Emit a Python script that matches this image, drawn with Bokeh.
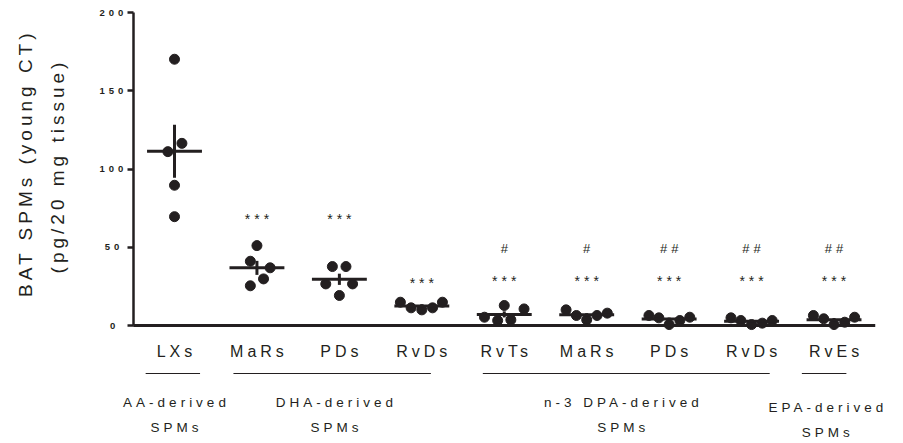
import numpy as np
from bokeh.plotting import figure
from bokeh.models import Range1d, FixedTicker, InlineStyleSheet
from bokeh.core.properties import value
from bokeh.embed import file_html
from bokeh.resources import INLINE

# ---------------- data ----------------
categories = ["LXs", "MaRs", "PDs", "RvDs", "RvTs", "MaRs", "PDs", "RvDs", "RvEs"]

lxs      = [170.3, 116.5, 111.2, 89.7, 69.6]
dha_mars = [51.1, 41.1, 36.9, 29.8, 25.4]
dha_pds  = [37.7, 37.7, 26.6, 26.6, 19.2]
dha_rvds = [14.9, 11.3, 10.0, 11.3, 14.9]
dpa_rvts = [12.8, 10.6, 5.3, 3.2, 3.6]
dpa_mars = [10.0, 6.4, 3.6, 6.4, 7.9]
dpa_pds  = [6.4, 4.9, 0.6, 3.2, 5.3]
dpa_rvds = [4.9, 3.2, 0.6, 1.5, 3.2]
epa_rves = [6.4, 4.3, 0.6, 2.1, 5.3]
series = [lxs, dha_mars, dha_pds, dha_rvds, dpa_rvts, dpa_mars, dpa_pds, dpa_rvds, epa_rves]

# horizontal scatter spread of the dots (category units)
lxs_jit      = [0.0, 0.09, -0.08, 0.0, 0.0]
dha_mars_jit = [0.0, -0.08, 0.16, 0.08, -0.08]
dha_pds_jit  = [-0.085, 0.08, -0.165, 0.16, 0.0]
dha_rvds_jit = [-0.26, -0.13, 0.0, 0.13, 0.25]
dpa_rvts_jit = [0.0, 0.24, -0.24, -0.08, 0.08]
dpa_mars_jit = [-0.25, -0.125, 0.0, 0.125, 0.25]
dpa_pds_jit  = [-0.245, -0.125, 0.0, 0.13, 0.25]
dpa_rvds_jit = [-0.25, -0.13, 0.0, 0.13, 0.25]
epa_rves_jit = [-0.25, -0.125, 0.0, 0.13, 0.25]
jitters = [lxs_jit, dha_mars_jit, dha_pds_jit, dha_rvds_jit, dpa_rvts_jit,
           dpa_mars_jit, dpa_pds_jit, dpa_rvds_jit, epa_rves_jit]

star_text = ["", "***", "***", "***", "***", "***", "***", "***", "***"]
star_y    = [0, 70.5, 70.5, 30.0, 31.0, 31.0, 31.0, 31.0, 31.0]
hash_text = ["", "", "", "", "#", "#", "##", "##", "##"]
hash_y    = [0, 0, 0, 0, 49.0, 49.0, 49.0, 49.0, 49.0]

group_names = ["AA-derived", "DHA-derived", "n-3 DPA-derived", "EPA-derived"]
group_sub   = ["SPMs", "SPMs", "SPMs", "SPMs"]
group_first = [0, 1, 4, 8]
group_last  = [0, 3, 7, 8]

y_ticks = [0, 50, 100, 150, 200]
y_label_1 = "BAT SPMs (young CT)"
y_label_2 = "(pg/20 mg tissue)"

# ---------------- layout (pixels of the 903x443 page) ----------------
W, H = 903, 443
X0_PX, X_STEP = 174.0, 82.44          # pixel of category 0, pixels per category
Y0_PX, Y200_PX = 325.0, 12.3          # pixel rows of y=0 and y=200
PPU = (Y0_PX - Y200_PX) / 200.0
LS = 4  # css letter spacing (px)
INK = "#231f20"
FONT = "Liberation Sans"

def dx(px):
    return (px - X0_PX) / X_STEP

def dy(py):
    return (Y0_PX - py) / PPU

def comp(texts):
    return [-(len(t) - 1) * LS / 2.0 for t in texts]

p = figure(width=W, height=H, output_backend="svg", toolbar_location=None,
           x_range=Range1d(dx(0), dx(W)), y_range=Range1d(dy(H), dy(0)),
           x_axis_type=None, title=None,
           min_border_left=0, min_border_right=0, min_border_top=0, min_border_bottom=0)
p.stylesheets = [InlineStyleSheet(css=":host { letter-spacing: %dpx; }" % LS)]
p.outline_line_color = None
p.grid.visible = False
p.background_fill_color = "white"
p.border_fill_color = "white"

ya = p.yaxis[0]
ya.fixed_location = -0.5
ya.bounds = (0, 200)
ya.ticker = FixedTicker(ticks=y_ticks)
ya.axis_line_width = 2.5
ya.axis_line_color = INK
ya.major_tick_line_width = 2.5
ya.major_tick_line_color = INK
ya.major_tick_out = 6
ya.major_tick_in = 0
ya.minor_tick_line_color = None
ya.major_label_text_font = FONT
ya.major_label_text_font_style = "bold"
ya.major_label_text_font_size = "9.5px"
ya.major_label_text_color = INK
ya.major_label_standoff = 12

# x axis line
p.segment(x0=[-0.5], y0=[0], x1=[8.5], y1=[0], line_width=3, line_color=INK)

# dots
xs, ys = [], []
for i, (vals, jit) in enumerate(zip(series, jitters)):
    for v, j in zip(vals, jit):
        xs.append(i + j)
        ys.append(v)
p.scatter(xs, ys, size=10, fill_color=INK, line_color=INK, marker="circle")

# mean and SEM
means = [float(np.mean(v)) for v in series]
sems = [float(np.std(v, ddof=1) / np.sqrt(len(v))) for v in series]
idx = list(range(len(categories)))
p.segment(x0=[i - 0.333 for i in idx], y0=means, x1=[i + 0.333 for i in idx], y1=means,
          line_width=3, line_color=INK)
p.segment(x0=idx, y0=[m - s for m, s in zip(means, sems)], x1=idx,
          y1=[m + s for m, s in zip(means, sems)], line_width=3, line_color=INK)

# significance marks
si = [i for i, t in enumerate(star_text) if t]
p.text(x=si, y=[star_y[i] for i in si], text=[star_text[i] for i in si],
       x_offset=comp([star_text[i] for i in si]), y_offset=4,
       text_font=value(FONT), text_font_size="14px", text_color=INK,
       text_align="center", text_baseline="middle")
hi = [i for i, t in enumerate(hash_text) if t]
p.text(x=hi, y=[hash_y[i] for i in hi], text=[hash_text[i] for i in hi],
       x_offset=comp([hash_text[i] for i in hi]),
       text_font=value(FONT), text_font_size="13px", text_color=INK,
       text_align="center", text_baseline="middle")

# category labels
p.text(x=idx, y=[0] * len(idx), text=categories, x_offset=comp(categories), y_offset=26,
       text_font=value(FONT), text_font_size="16px", text_color=INK,
       text_align="center", text_baseline="alphabetic")

# group brackets and labels
pad_l = [0.35, 0.285, 0.26, 0.39]
pad_r = [0.31, 0.11, 0.22, 0.15]
shift = [0.0, -0.06, -0.08, -0.1]
extra = [0, 0, 0, 5]
line_y = dy(Y0_PX + 48)
p.segment(x0=[f - a for f, a in zip(group_first, pad_l)], y0=[line_y] * 4,
          x1=[l + b for l, b in zip(group_last, pad_r)], y1=[line_y] * 4,
          line_width=1, line_color=INK)
gx = [(f + l) / 2.0 + s for f, l, s in zip(group_first, group_last, shift)]
p.text(x=gx, y=[0] * 4, text=group_names, x_offset=comp(group_names),
       y_offset=[77 + e for e in extra],
       text_font=value(FONT), text_font_size="13.5px", text_color=INK,
       text_align="center", text_baseline="alphabetic")
p.text(x=gx, y=[0] * 4, text=group_sub, x_offset=comp(group_sub),
       y_offset=[102 + e for e in extra],
       text_font=value(FONT), text_font_size="13.5px", text_color=INK,
       text_align="center", text_baseline="alphabetic")

# y axis title (two lines, rotated)
ylabels = [y_label_1, y_label_2]
p.text(x=[dx(25), dx(57)], y=[dy(164.5), dy(167.5)], text=ylabels,
       y_offset=[(len(t) - 1) * LS / 2.0 for t in ylabels], angle=np.pi / 2,
       text_font=value(FONT), text_font_size="19px", text_color=INK,
       text_align="center", text_baseline="middle")

open("out.html", "w").write(file_html(p, INLINE))
